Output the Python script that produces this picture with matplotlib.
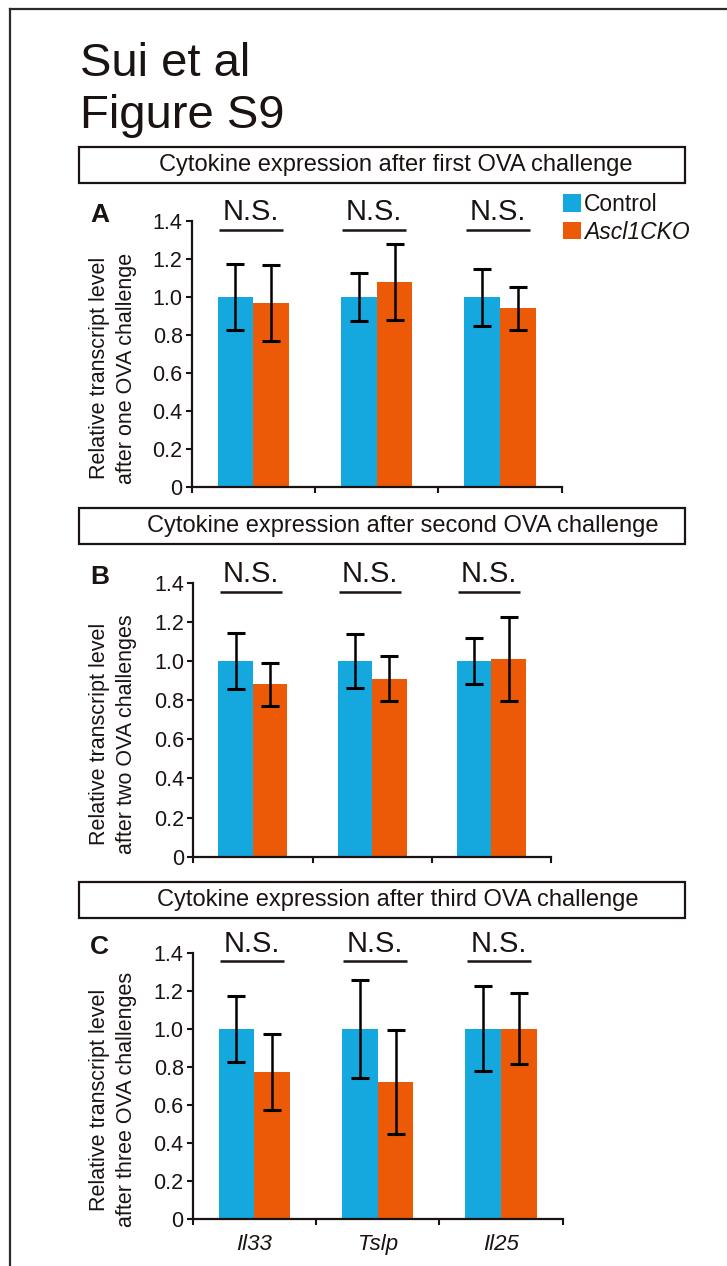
import matplotlib
matplotlib.use("Agg")
import matplotlib.pyplot as plt
import numpy as np
from matplotlib.lines import Line2D
from matplotlib.patches import Rectangle

# relative transcript levels (mean, error) per challenge
genes = ['Il33', 'Tslp', 'Il25']

ctrl_first = [1.00, 1.00, 1.00]
ctrl_first_err = [0.175, 0.127, 0.150]
cko_first = [0.97, 1.08, 0.94]
cko_first_err = [0.200, 0.200, 0.113]

ctrl_second = [1.00, 1.00, 1.00]
ctrl_second_err = [0.145, 0.137, 0.117]
cko_second = [0.88, 0.91, 1.01]
cko_second_err = [0.112, 0.114, 0.213]

ctrl_third = [1.00, 1.00, 1.00]
ctrl_third_err = [0.174, 0.257, 0.223]
cko_third = [0.77, 0.72, 1.00]
cko_third_err = [0.200, 0.275, 0.187]

challenges = ['first', 'second', 'third']
ylabels = ['after one OVA challenge', 'after two OVA challenges', 'after three OVA challenges']
letters = ['A', 'B', 'C']
yticks = [0, 0.2, 0.4, 0.6, 0.8, 1.0, 1.2, 1.4]
ytick_labels = ['0', '0.2', '0.4', '0.6', '0.8', '1.0', '1.2', '1.4']

BLUE = '#14a8df'
ORANGE = '#ec5a07'
NAVY = '#1c2160'
INK = '#1a1311'

plt.rcParams['font.family'] = ['Liberation Sans', 'DejaVu Sans']
plt.rcParams['text.color'] = INK
plt.rcParams['axes.edgecolor'] = INK
plt.rcParams['xtick.color'] = INK
plt.rcParams['ytick.color'] = INK

W, H = 727, 1266
fig = plt.figure(figsize=(W / 100, H / 100), dpi=100)


def fx(x):
    return x / W


def fy(y):
    return 1 - y / H


# outer frame (left and top edges)
fig.add_artist(Line2D([fx(10), fx(10)], [0, fy(9)], color='#2a2a2a', lw=1.6))
fig.add_artist(Line2D([fx(10), 1], [fy(9), fy(9)], color='#2a2a2a', lw=1.6))

fig.text(fx(80), fy(76), 'Sui et al', fontsize=34, va='baseline', ha='left')
fig.text(fx(80), fy(128), 'Figure S9', fontsize=34, va='baseline', ha='left')

box_tops = [147, 508, 882]
box_text_x = [396, 403, 398]
axes_px = [(191.7, 561.7, 221, 487.3),
           (193.3, 551.0, 582.7, 856.7),
           (192.7, 562.7, 952.7, 1218.7)]

data = [
    (ctrl_first, ctrl_first_err, cko_first, cko_first_err),
    (ctrl_second, ctrl_second_err, cko_second, cko_second_err),
    (ctrl_third, ctrl_third_err, cko_third, cko_third_err),
]

x = np.arange(len(genes))
w = 0.29

for i in range(3):
    ctrl, ctrl_err, cko, cko_err = data[i]
    bt = box_tops[i]

    # title box above each panel
    fig.add_artist(Rectangle((fx(79), fy(bt + 36)), (685 - 79) / W, 36 / H,
                             fill=False, edgecolor=INK, lw=1.6,
                             transform=fig.transFigure))
    fig.text(fx(box_text_x[i]), fy(bt + 18),
             'Cytokine expression after %s OVA challenge' % challenges[i],
             fontsize=17, va='center', ha='center')

    x0, x1, ytop, ybot = axes_px[i]
    ax = fig.add_axes([fx(x0), fy(ybot), (x1 - x0) / W, (ybot - ytop) / H])

    b1 = ax.bar(x - w / 2, ctrl, w, color=BLUE, linewidth=0, label='Control')
    b2 = ax.bar(x + w / 2, cko, w, color=ORANGE, linewidth=0, label='Ascl1CKO')
    for xs, ys, es in [(x - w / 2, ctrl, ctrl_err), (x + w / 2, cko, cko_err)]:
        eb = ax.errorbar(xs, ys, yerr=es, fmt='none', ecolor='black',
                         elinewidth=1.8, capsize=6.5, capthick=2.2)
        for cap in eb[1]:
            cap.set_color(NAVY)

    # N.S. marks with underline
    for c in x:
        ax.text(c - 0.02, 1.405, 'N.S.', fontsize=21, ha='center', va='baseline', clip_on=False)
        ax.plot([c - 0.28, c + 0.24], [1.355, 1.355], color=INK, lw=1.8,
                clip_on=False, solid_capstyle='butt')

    ax.set_xlim(-0.5, 2.5)
    ax.set_ylim(0, 1.4)
    ax.spines['top'].set_visible(False)
    ax.spines['right'].set_visible(False)
    ax.spines['left'].set_linewidth(1.6)
    ax.spines['bottom'].set_linewidth(1.6)
    ax.set_yticks(yticks)
    ax.set_yticklabels(ytick_labels, fontsize=15.5)
    ax.set_xticks([-0.5, 0.5, 1.5, 2.5])
    ax.set_xticklabels([])
    ax.set_xticks(x, minor=True)
    if i == 2:
        ax.set_xticklabels(genes, minor=True, fontsize=16, fontstyle='italic')
    ax.tick_params(axis='both', which='major', direction='out', length=4.5, width=1.5, pad=2)
    ax.tick_params(axis='x', which='minor', length=0, pad=11)

    fig.text(fx(90), fy(ytop + 1), letters[i], fontsize=19, fontweight='bold',
             va='baseline', ha='left')
    fig.text(fx(113), fy((ytop + ybot) / 2 + 14),
             'Relative transcript level\n' + ylabels[i],
             rotation=90, ha='center', va='center', multialignment='center',
             fontsize=15.5, linespacing=1.35)

    if i == 0:
        leg = ax.legend(handles=[b1, b2], loc='upper left',
                        bbox_to_anchor=(fx(563), fy(193)), bbox_transform=fig.transFigure,
                        frameon=False, fontsize=16.5, borderpad=0, borderaxespad=0,
                        handlelength=0.78, handleheight=0.78, handletextpad=0.15,
                        labelspacing=0.2)
        leg.get_texts()[1].set_fontstyle('italic')

fig.savefig('out.png', dpi=100)
